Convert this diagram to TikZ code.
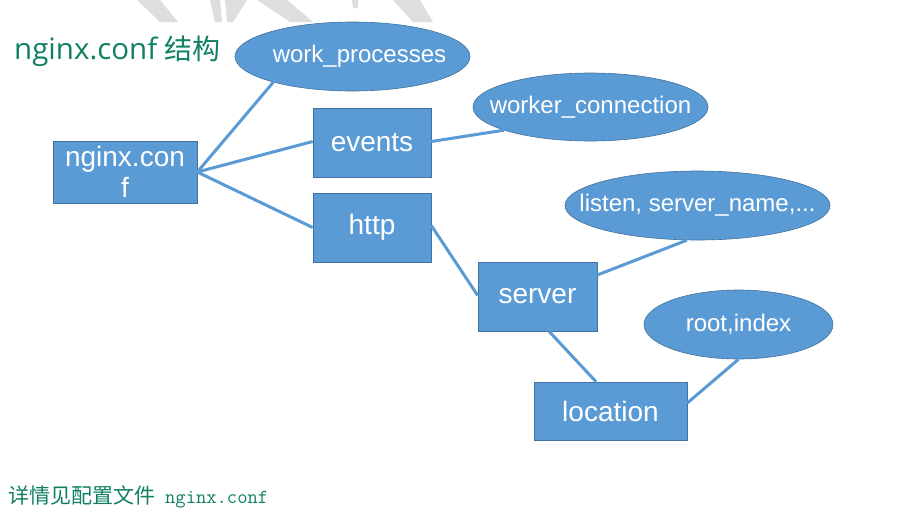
\documentclass[tikz,border=0pt]{standalone}
\usepackage{fontspec}
\setmainfont{Liberation Sans}
\newfontfamily\cjk{Noto Sans CJK SC}
\newfontfamily\titlefont{Open Sans}
\usetikzlibrary{shapes.geometric}
\definecolor{boxblue}{RGB}{91,155,213}
\definecolor{boxedge}{RGB}{65,113,156}
\definecolor{titlegreen}{RGB}{16,128,100}
\definecolor{wmgray}{RGB}{222,222,222}
\newcommand{\zw}[1]{\makebox[0pt]{#1}}
\begin{document}
\begin{tikzpicture}[x=1pt,y=-1pt,
  blk/.style={rectangle, fill=boxblue, draw=boxedge, line width=0.6pt, text=white,
    font=\fontsize{28}{31}\selectfont, inner sep=0pt, align=center},
  oval/.style={ellipse, fill=boxblue, draw=boxedge, line width=0.6pt, text=white,
    font=\fontsize{24}{28}\selectfont, inner sep=0pt},
  link/.style={draw=boxblue, line width=3pt}]
\useasboundingbox (0,0) rectangle (906,515);
\fill[white] (0,0) rectangle (906,515);
% watermark strokes
\fill[wmgray] (137,0) -- (160,0) -- (178,22) -- (160,22) -- cycle;
\fill[wmgray] (210,0) -- (220,0) -- (222,22) -- (215,22) -- cycle;
\fill[wmgray] (225,0) -- (247,0) -- (233,22) -- (227,22) -- cycle;
\fill[wmgray] (257,0) -- (287,0) -- (313,22) -- (290,22) -- cycle;
\fill[wmgray] (352,0) -- (358,0) -- (358,8) -- (353,8) -- cycle;
\fill[wmgray] (393,0) -- (420,0) -- (433,22) -- (413,22) -- cycle;
% title
\node[anchor=base west, inner sep=0pt, text=titlegreen] (title) at (14,59)
  {{\titlefont\fontsize{29.5}{32}\selectfont nginx.conf }{\cjk\fontsize{28}{32}\selectfont 结构}};
% boxes
\node[blk, minimum width=144pt, minimum height=62pt] (conf) at (125,172) {nginx.con\\f};
\node[blk, minimum width=118pt, minimum height=69pt] (events) at (372,142.5) {events};
\node[blk, minimum width=118pt, minimum height=69pt] (http) at (372,227.5) {http};
\node[blk, minimum width=119pt, minimum height=69pt] (server) at (537.5,296.5) {server};
\node[blk, minimum width=153pt, minimum height=58pt] (location) at (610.5,411) {location};
% ellipses
\node[oval, minimum width=235pt, minimum height=69pt] (wp) at (352.5,56.5) {\zw{\hspace{14pt}work\_processes}};
\node[oval, minimum width=235pt, minimum height=68pt] (wc) at (590.5,107) {\zw{worker\_connection}};
\node[oval, minimum width=265pt, minimum height=69pt] (listen) at (697.5,205.5) {\zw{listen, server\_name,...}};
\node[oval, minimum width=189pt, minimum height=69pt] (root) at (738.5,324.5) {\zw{root,index}};
% connectors
\draw[link] (conf.east) -- (wp.198);
\draw[link] (conf.east) -- ([yshift=1pt]events.west);
\draw[link] (conf.east) -- (http.west);
\draw[link] ([yshift=1pt]events.east) -- (wc.195);
\draw[link] ([yshift=2pt]http.east) -- ([yshift=1pt]server.west);
\draw[link] ([yshift=21.5pt]server.east) -- (listen.253);
\draw[link] ([xshift=11.5pt]server.south) -- ([xshift=-14.5pt]location.north);
\draw[link] ([yshift=8pt]location.east) -- (root.south);
% footer
\node[anchor=base west, inner sep=0pt, text=titlegreen] (footer) at (8,503)
  {{\cjk\fontsize{21}{24}\selectfont 详情见配置文件}\hspace{10pt}{\ttfamily\fontsize{20}{22}\selectfont nginx.conf}};
\end{tikzpicture}
\end{document}
